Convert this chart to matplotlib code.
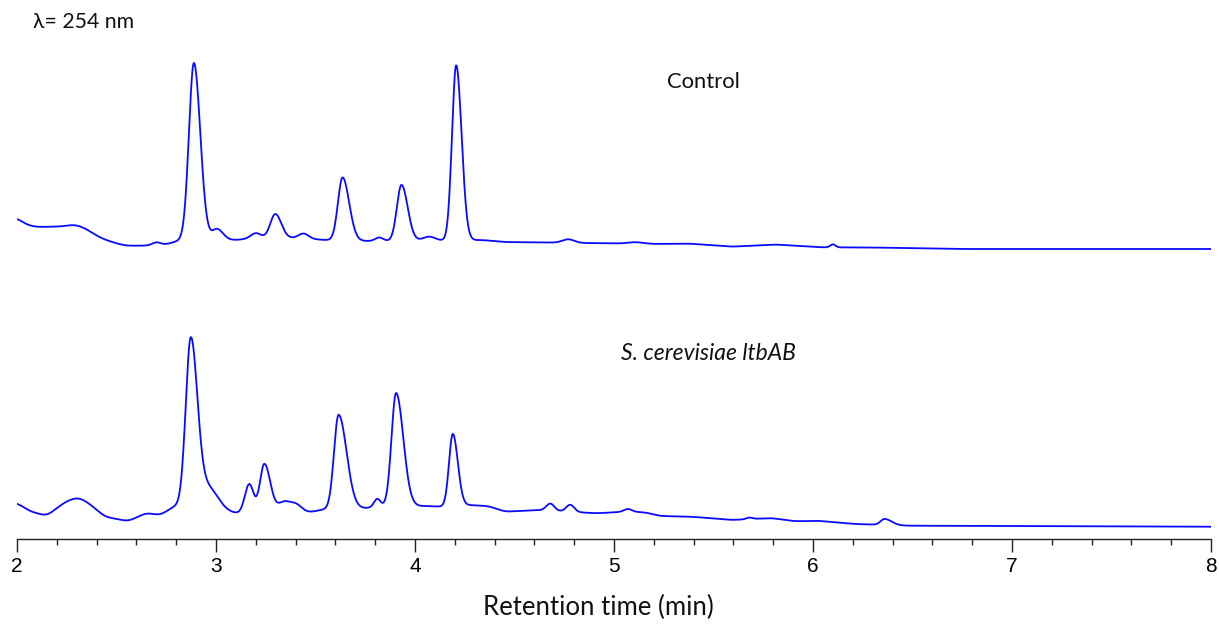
import numpy as np
import matplotlib.pyplot as plt
from matplotlib.ticker import MultipleLocator

# Retention-time grid (min)
t = np.linspace(2.0, 8.0, 3001)

# Control run: baseline anchors (min, a.u.)
ctrl_base_t = [2.00, 2.05, 2.10, 2.22, 2.29, 2.34, 2.42, 2.50, 2.55, 2.64, 2.76, 2.82,
               3.10, 3.20, 3.40, 3.55, 3.75, 3.87, 4.13, 4.34, 4.45, 4.65, 4.97, 5.19,
               5.37, 5.59, 5.81, 6.04, 6.30, 6.73, 8.00]
ctrl_base_v = [51, 44, 42, 42.5, 44.5, 41, 31, 25.5, 23.3, 23.3, 25, 29,
               29, 31, 31, 29, 28, 28, 28.5, 29, 27, 26.5, 25.7, 25,
               25.5, 22.3, 24.5, 21.7, 21.5, 20, 20]
# Control peaks: retention time, height, sigma left, sigma right
ctrl_rt = [2.70, 2.889, 3.005, 3.20, 3.298, 3.44, 3.636, 3.82, 3.932, 4.07, 4.207, 4.77, 5.11, 6.10]
ctrl_h = [2.5, 177, 11, 5, 24, 5, 63, 3.5, 56, 4, 175, 3.5, 1.5, 3]
ctrl_sl = [0.02, 0.025, 0.025, 0.025, 0.025, 0.025, 0.023, 0.02, 0.023, 0.03, 0.021, 0.03, 0.04, 0.013]
ctrl_sr = [0.02, 0.032, 0.03, 0.025, 0.03, 0.025, 0.033, 0.02, 0.031, 0.03, 0.027, 0.03, 0.04, 0.013]

# S. cerevisiae ltbAB run
ltb_base_t = [2.00, 2.06, 2.15, 2.22, 2.26, 2.31, 2.36, 2.44, 2.56, 2.65, 2.72, 2.80,
              3.10, 3.47, 3.55, 3.75, 3.84, 4.06, 4.13, 4.26, 4.37, 4.45, 4.63, 4.91,
              5.03, 5.15, 5.23, 5.39, 5.59, 5.79, 5.91, 6.02, 6.21, 6.48, 7.00, 8.00]
ltb_base_v = [36.3, 28, 23, 34, 39, 41.7, 36, 22.3, 17.7, 26.3, 23.7, 34,
              25.7, 26.7, 30, 30.7, 33, 33, 32.3, 34, 33, 27.3, 29, 25.7,
              27, 27, 23, 22.3, 19, 21, 17.7, 18.3, 15, 13.3, 13, 12.3]
ltb_rt = [2.873, 2.96, 3.167, 3.243, 3.34, 3.40, 3.616, 3.81, 3.905, 4.19, 4.68, 4.78, 5.07, 5.68, 6.36]
ltb_h = [165, 22, 29, 49, 10, 8, 94, 8, 113, 72, 7, 7, 3, 1.5, 6]
ltb_sl = [0.025, 0.05, 0.022, 0.022, 0.03, 0.03, 0.023, 0.016, 0.023, 0.019, 0.02, 0.02, 0.02, 0.015, 0.02]
ltb_sr = [0.033, 0.05, 0.022, 0.03, 0.03, 0.03, 0.04, 0.016, 0.036, 0.025, 0.02, 0.02, 0.02, 0.015, 0.035]

ctrl_offset = 270


def trace(base_t, base_v, rt, h, sl, sr):
    base = np.interp(t, base_t, base_v)
    # soften the corners between baseline anchors
    k = np.exp(-0.5 * (np.arange(-40, 41) / 10.0) ** 2)
    k /= k.sum()
    padded = np.concatenate([np.full(40, base[0]), base, np.full(40, base[-1])])
    y = np.convolve(padded, k, mode='valid')
    for c, a, s1, s2 in zip(rt, h, sl, sr):
        s = np.where(t < c, s1, s2)
        y = y + a * np.exp(-0.5 * ((t - c) / s) ** 2)
    return y


ctrl = trace(ctrl_base_t, ctrl_base_v, ctrl_rt, ctrl_h, ctrl_sl, ctrl_sr) + ctrl_offset
ltb = trace(ltb_base_t, ltb_base_v, ltb_rt, ltb_h, ltb_sl, ltb_sr)

fig = plt.figure(figsize=(12.19, 6.28), dpi=100)
ax = fig.add_axes([17 / 1219, 89 / 628, 1194 / 1219, 539 / 628])
ax.plot(t, ctrl, color='#0a0aff', lw=1.3)
ax.plot(t, ltb, color='#0a0aff', lw=1.3)

ax.set_xlim(2, 8)
ax.set_ylim(0, 539)
for s in ['top', 'left', 'right']:
    ax.spines[s].set_visible(False)
ax.spines['bottom'].set_linewidth(1.0)
ax.spines['bottom'].set_color('#222222')
ax.set_yticks([])
ax.xaxis.set_major_locator(MultipleLocator(1))
ax.xaxis.set_minor_locator(MultipleLocator(0.2))
ax.tick_params(axis='x', which='major', length=9, width=1.0, color='#222222',
               labelsize=15, pad=4)
ax.tick_params(axis='x', which='minor', length=4.5, width=1.0, color='#222222')
for lbl in ax.get_xticklabels():
    lbl.set_family('Liberation Sans')

txt = dict(family='Lato', color='#111111')
fig.text(33 / 1219, 1 - 22 / 628, 'λ= 254 nm', fontsize=15.3, va='center', **txt)
fig.text(667 / 1219, 1 - 82 / 628, 'Control', fontsize=15.8, va='center', **txt)
fig.text(621 / 1219, 1 - 354 / 628, 'S. cerevisiae ltbAB', fontsize=16.5, va='center',
         style='italic', **txt)
fig.text(598 / 1219, 1 - 607 / 628, 'Retention time (min)', fontsize=18.5, va='center',
         ha='center', **txt)

fig.savefig('out.png', dpi=100)
